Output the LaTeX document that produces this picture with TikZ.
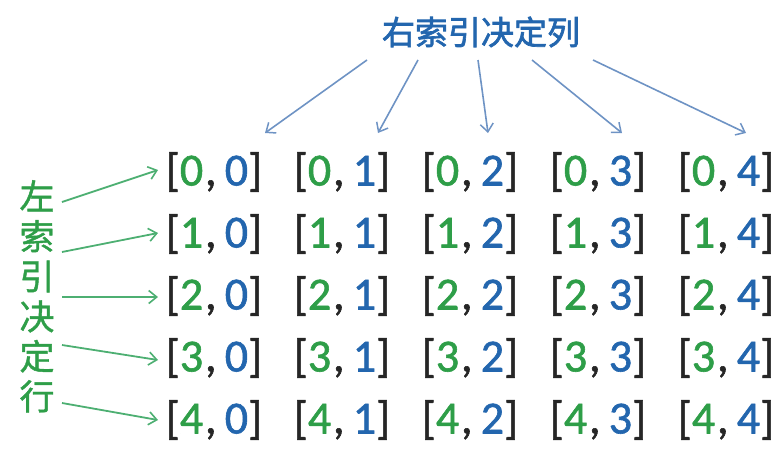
\documentclass[tikz,border=0pt]{standalone}
\usepackage{fontspec}
\setmainfont{Carlito}
\newfontfamily\cellfont{Carlito}[FakeBold=1.3]
\newfontfamily\cjk{Noto Sans CJK SC}[FakeBold=1.2]
\newfontfamily\cjkb{Noto Sans CJK SC}[FakeBold=2]
\usetikzlibrary{arrows.meta}
\definecolor{dgreen}{HTML}{2E9E48}
\definecolor{dblue}{HTML}{2366AE}
\definecolor{agreen}{HTML}{4DAF72}
\definecolor{ablue}{HTML}{6E93C4}
\definecolor{brk}{HTML}{262626}
\newcommand{\cellidx}[2]{[\textcolor{dgreen}{#1}\hspace{0.04em},\hspace{0.18em}\textcolor{dblue}{#2}]}
\tikzset{
  cellbox/.style={inner sep=2pt, font=\cellfont\fontsize{46}{46}\selectfont, text=brk, anchor=center},
  garrow/.style={draw=agreen, line width=1.8pt, -{Straight Barb[length=8pt,width=13pt,line width=1.6pt]}},
  barrow/.style={draw=ablue, line width=1.6pt, -{Straight Barb[length=8pt,width=13pt,line width=1.5pt]}},
}
\begin{document}
\begin{tikzpicture}[x=1pt,y=-1pt]
\useasboundingbox (0,0) rectangle (778,453);
% cells
\foreach \i in {0,...,4}{
  \foreach \j in {0,...,4}{
    \node[cellbox] (c\i\j) at (214+128*\j, 172+62*\i) {\cellidx{\i}{\j}};
  }
}
% title
\node[font=\cjkb\fontsize{33}{33}\selectfont, text=dblue, inner sep=0pt] (title) at (481,32) {右索引决定列};
% left label
\node[font=\cjk\fontsize{35}{40}\selectfont, text=dgreen, inner sep=0pt, align=center, anchor=north] (left) at (37,180) {左\\索\\引\\决\\定\\行};
% top arrows
\coordinate (t0) at (367,60); \coordinate (a0) at (265,133);
\coordinate (t1) at (418,60); \coordinate (a1) at (378,133);
\coordinate (t2) at (478,60); \coordinate (a2) at (488,133);
\coordinate (t3) at (532,60); \coordinate (a3) at (622,133);
\coordinate (t4) at (593,60); \coordinate (a4) at (746,133);
\foreach \k in {0,...,4}{ \draw[barrow] (t\k) -- (a\k); }
% left arrows
\coordinate (l0) at (62,202); \coordinate (e0) at (158,170);
\coordinate (l1) at (62,252); \coordinate (e1) at (158,233);
\coordinate (l2) at (62,297); \coordinate (e2) at (158,297);
\coordinate (l3) at (62,345); \coordinate (e3) at (158,360);
\coordinate (l4) at (62,403); \coordinate (e4) at (158,420);
\foreach \k in {0,...,4}{ \draw[garrow] (l\k) -- (e\k); }
\end{tikzpicture}
\end{document}
